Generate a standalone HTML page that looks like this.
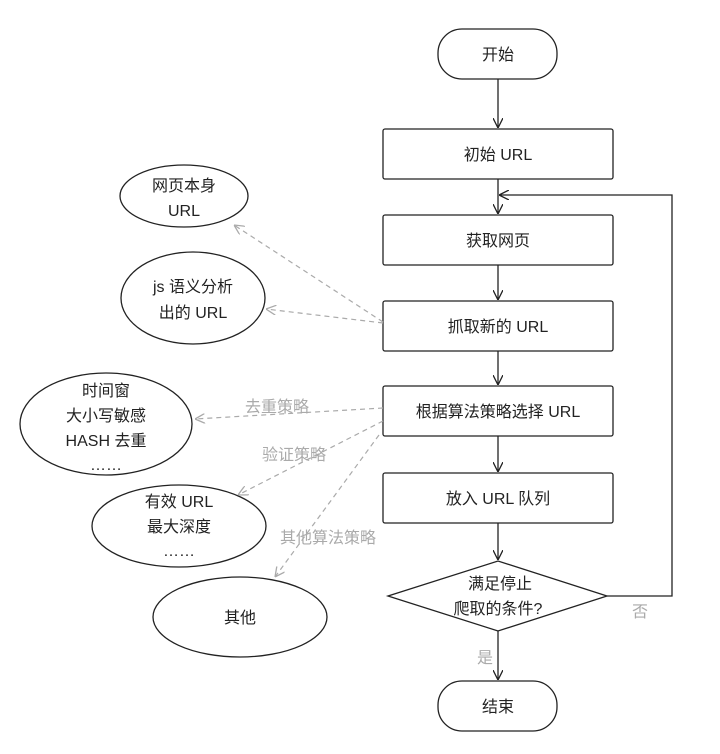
<!DOCTYPE html>
<html><head><meta charset="utf-8"><style>
html,body{margin:0;padding:0;background:#fff;}
svg{display:block;}
text{font-family:"Liberation Sans","Noto Sans CJK SC",sans-serif;font-size:16px;fill:#222;}
.g{fill:#aaa;}
</style></head><body>
<svg width="720" height="754" viewBox="0 0 720 754" xmlns="http://www.w3.org/2000/svg">
<defs>
<marker id="a" viewBox="0 0 10 10" refX="10" refY="5" markerWidth="10" markerHeight="10" orient="auto" markerUnits="userSpaceOnUse"><path d="M0,0 L10,5 L0,10" fill="none" stroke="#222" stroke-width="1.3"/></marker>
<marker id="ga" viewBox="0 0 10 10" refX="10" refY="5" markerWidth="10" markerHeight="10" orient="auto" markerUnits="userSpaceOnUse"><path d="M0,0 L10,5 L0,10" fill="none" stroke="#aaa" stroke-width="1.3"/></marker>
</defs>
<g fill="none" stroke="#222" stroke-width="1.3">
<rect x="438" y="29" width="119" height="50" rx="24"/>
<rect x="383" y="129" width="230" height="50" rx="2"/>
<rect x="383" y="215" width="230" height="50" rx="2"/>
<rect x="383" y="301" width="230" height="50" rx="2"/>
<rect x="383" y="386" width="230" height="50" rx="2"/>
<rect x="383" y="473" width="230" height="50" rx="2"/>
<polygon points="388,596 498,561 607,596 498,631"/>
<rect x="438" y="681" width="119" height="50" rx="24"/>
<ellipse cx="184" cy="196" rx="64" ry="31"/>
<ellipse cx="193" cy="298" rx="72" ry="46"/>
<ellipse cx="106" cy="424" rx="86" ry="51"/>
<ellipse cx="179" cy="526" rx="87" ry="41"/>
<ellipse cx="240" cy="617" rx="87" ry="40"/>
<line x1="498" y1="79" x2="498" y2="128" marker-end="url(#a)"/>
<line x1="498" y1="179" x2="498" y2="214" marker-end="url(#a)"/>
<line x1="498" y1="265" x2="498" y2="300" marker-end="url(#a)"/>
<line x1="498" y1="351" x2="498" y2="385" marker-end="url(#a)"/>
<line x1="498" y1="436" x2="498" y2="472" marker-end="url(#a)"/>
<line x1="498" y1="523" x2="498" y2="560" marker-end="url(#a)"/>
<line x1="498" y1="631" x2="498" y2="680" marker-end="url(#a)"/>
<polyline points="607,596 672,596 672,195 499,195" marker-end="url(#a)"/>
</g>
<g fill="none" stroke="#aaa" stroke-width="1.2" stroke-dasharray="5,4">
<line x1="383" y1="322" x2="234" y2="225" marker-end="url(#ga)"/>
<line x1="383" y1="323" x2="266" y2="309" marker-end="url(#ga)"/>
<line x1="383" y1="408" x2="195" y2="419" marker-end="url(#ga)"/>
<line x1="383" y1="421" x2="238" y2="495" marker-end="url(#ga)"/>
<line x1="379" y1="435" x2="275" y2="577" marker-end="url(#ga)"/>
</g>
<g text-anchor="middle">
<text x="498" y="60">开始</text>
<text x="498" y="160">初始 URL</text>
<text x="498" y="246">获取网页</text>
<text x="498" y="332">抓取新的 URL</text>
<text x="498" y="417">根据算法策略选择 URL</text>
<text x="498" y="504">放入 URL 队列</text>
<text x="500" y="589">满足停止</text>
<text x="498" y="614">爬取的条件?</text>
<text x="498" y="712">结束</text>
<text x="184" y="191">网页本身</text>
<text x="184" y="216">URL</text>
<text x="193" y="292">js 语义分析</text>
<text x="193" y="318">出的 URL</text>
<text x="106" y="396">时间窗</text>
<text x="106" y="421">大小写敏感</text>
<text x="106" y="446">HASH 去重</text>
<text x="106" y="470">……</text>
<text x="179" y="507">有效 URL</text>
<text x="179" y="532">最大深度</text>
<text x="179" y="556">……</text>
<text x="240" y="623">其他</text>
</g>
<text class="g" x="245" y="412">去重策略</text>
<text class="g" x="262" y="460">验证策略</text>
<text class="g" x="280" y="543">其他算法策略</text>
<text class="g" x="632" y="617">否</text>
<text class="g" x="477" y="663">是</text>
</svg>
</body></html>
